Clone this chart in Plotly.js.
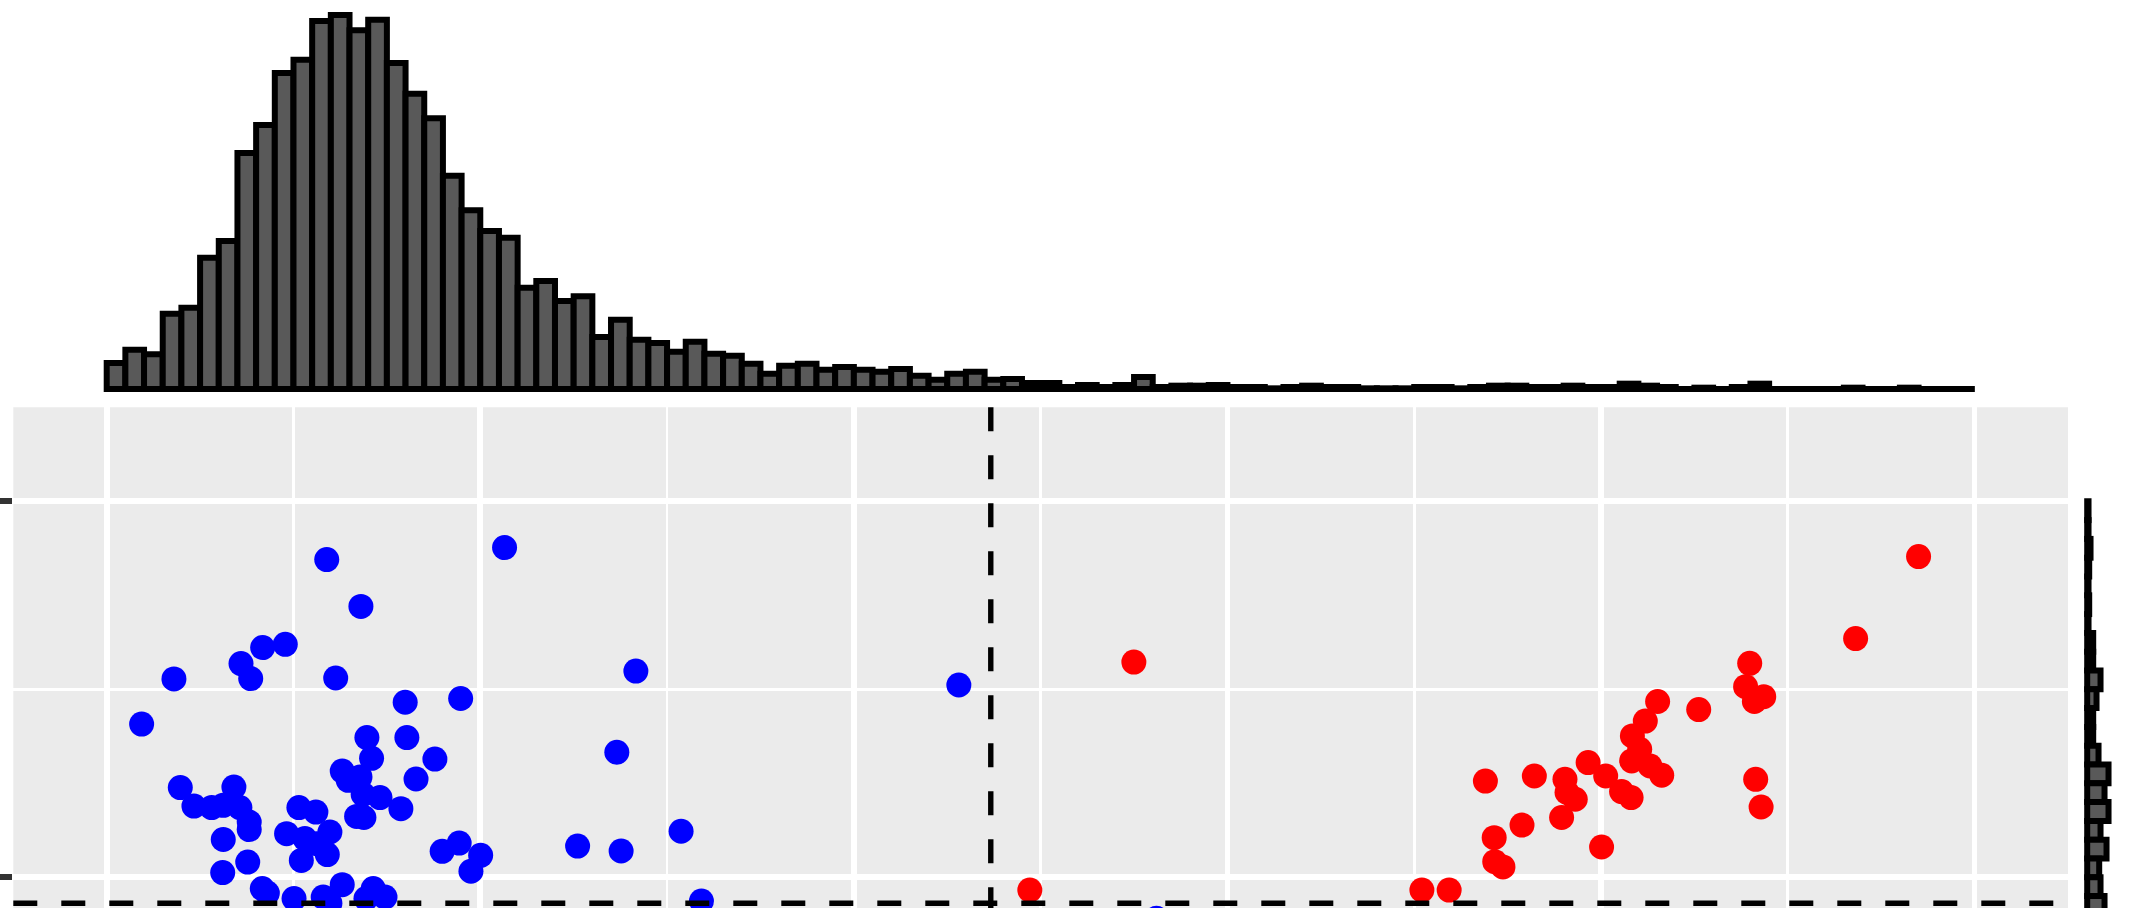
<!DOCTYPE html>
<html>
<head>
<meta charset="utf-8">
<script src="https://cdn.plot.ly/plotly-3.0.1.min.js"></script>
<style>
html,body{margin:0;padding:0;background:#ffffff;overflow:hidden}
#chart{width:2136px;height:908px}
</style>
</head>
<body>
<div id="chart"></div>
<script>
// ---- Data ----
// Top marginal histogram: 100 bins of width 0.01 from x = 0 to 1
const topBinStart = 0;
const topBinWidth = 0.01;
const topHistCounts = [
  39, 59, 52, 113, 122, 197, 222, 354, 396, 474, 494, 552, 561, 538, 554, 489, 443, 406, 320, 268, 237, 227, 152, 162, 132, 139,
  78, 104, 74, 69, 56, 71, 53, 50, 38, 23, 35, 38, 29, 33, 29, 26, 30, 20, 14, 23, 26, 14, 15,
  9, 9, 3, 6, 3, 6, 18, 3, 5, 5, 6, 3, 3, 1, 3, 5, 3, 3, 1, 1, 1, 3, 3, 1, 3, 5,
  5, 3, 3, 5, 3, 3, 8, 5, 3, 0, 2, 0, 3, 8, 0, 0, 0, 0, 2, 0, 0, 2, 0, 0, 0
];

// Right marginal histogram: bins of width 0.01 going down from y = 1.0 (visible part only)
const rightBinTop = 1.0;
const rightBinWidth = 0.01;
const rightHistCounts = [2, 2, 5, 3, 2, 3, 2, 9, 9, 20, 14, 9, 9, 17, 32, 26, 32, 20, 29, 18, 20, 26];

// Scatter points
const blueX = [0.1178, 0.2130, 0.1361, 0.0835, 0.0956, 0.0719, 0.0771, 0.0360, 0.1226, 0.0187,
  0.1598, 0.1895, 0.1393, 0.1607, 0.1418, 0.1757, 0.1656, 0.1261, 0.1293, 0.1356,
  0.0394, 0.0681, 0.0467, 0.0562, 0.0624, 0.0713, 0.0763, 0.0763, 0.1373, 0.1463,
  0.1575, 0.1029, 0.1120, 0.1338, 0.1377, 0.0624, 0.0963, 0.1061, 0.1195, 0.1124,
  0.1181, 0.1042, 0.0755, 0.0621, 0.1796, 0.1887, 0.2002, 0.1950, 0.2521, 0.2754,
  0.3075, 0.3184, 0.2833, 0.4562, 0.2731, 0.0833, 0.0860, 0.1003, 0.1159, 0.1261,
  0.1427, 0.1388, 0.1490, 0.1195, 0.5620];
const blueY = [0.9690, 0.9754, 0.9441, 0.9222, 0.9239, 0.9137, 0.9057, 0.9055, 0.9060, 0.8815,
  0.8931, 0.8951, 0.8743, 0.8743, 0.8633, 0.8629, 0.8523, 0.8565, 0.8516, 0.8534,
  0.8477, 0.8480, 0.8379, 0.8371, 0.8383, 0.8371, 0.8294, 0.8254, 0.8441, 0.8424,
  0.8365, 0.8371, 0.8347, 0.8324, 0.8318, 0.8201, 0.8232, 0.8206, 0.8241, 0.8179,
  0.8121, 0.8090, 0.8081, 0.8025, 0.8138, 0.8182, 0.8117, 0.8032, 0.8166, 0.8140,
  0.8245, 0.7874, 0.9097, 0.9023, 0.8665, 0.7940, 0.7916, 0.7887, 0.7895, 0.7961,
  0.7940, 0.7887, 0.7895, 0.7862, 0.7782];

const redX = [0.5499, 0.9700, 0.9363, 0.8796, 0.8774, 0.8821, 0.8871, 0.8303, 0.8523, 0.8237,
  0.8168, 0.8207, 0.8164, 0.8263, 0.8325, 0.7931, 0.8025, 0.7807, 0.7643, 0.7381,
  0.7818, 0.7862, 0.8110, 0.8161, 0.8828, 0.8857, 0.7577, 0.7789, 0.7428, 0.7431,
  0.7475, 0.8003, 0.7041, 0.7187, 0.4942];
const redY = [0.9145, 0.9706, 0.9270, 0.9138, 0.9014, 0.8935, 0.8961, 0.8935, 0.8892, 0.8831,
  0.8752, 0.8681, 0.8619, 0.8592, 0.8543, 0.8610, 0.8539, 0.8521, 0.8539, 0.8512,
  0.8451, 0.8415, 0.8456, 0.8424, 0.8521, 0.8374, 0.8278, 0.8318, 0.8211, 0.8083,
  0.8055, 0.8161, 0.7932, 0.7932, 0.7932];

// Threshold lines
const xThreshold = 0.4733;
const yThreshold = 0.7862;

// ---- Build chart ----
const topCenters = topHistCounts.map((_, i) => topBinStart + topBinWidth * (i + 0.5));
const topBinEnd = topBinStart + topBinWidth * topHistCounts.length;
const rightCenters = rightHistCounts.map((_, i) => rightBinTop - rightBinWidth * (i + 0.5));

const histMarker = {color: '#595959', line: {color: '#000000', width: 6}};

const traces = [
  {type: 'bar', x: topCenters, y: topHistCounts, width: topBinWidth,
   xaxis: 'x4', yaxis: 'y2', marker: histMarker, hoverinfo: 'skip'},
  {type: 'scatter', mode: 'lines', x: [topBinStart, topBinEnd], y: [0, 0],
   xaxis: 'x4', yaxis: 'y2', line: {color: '#000000', width: 6}, hoverinfo: 'skip'},
  {type: 'bar', orientation: 'h', y: rightCenters, x: rightHistCounts, width: rightBinWidth,
   xaxis: 'x3', yaxis: 'y3', marker: histMarker, hoverinfo: 'skip'},
  {type: 'scatter', mode: 'markers', x: blueX, y: blueY, xaxis: 'x', yaxis: 'y',
   marker: {color: '#0000FF', size: 25, line: {width: 0}}},
  {type: 'scatter', mode: 'markers', x: redX, y: redY, xaxis: 'x', yaxis: 'y',
   marker: {color: '#FF0000', size: 25, line: {width: 0}}}
];

const xDomain = [13.3 / 2136, 2068 / 2136];
const xRange = [-0.05, 1.05];
const yDomain = [0, (908 - 407.3) / 908];
const yRange = [1.05 - (908 - 407.3) / 1880, 1.05];

const layout = {
  width: 2136, height: 908,
  margin: {l: 0, r: 0, t: 0, b: 0, pad: 0},
  paper_bgcolor: '#ffffff',
  plot_bgcolor: 'rgba(0,0,0,0)',
  showlegend: false,
  xaxis: {
    domain: xDomain, range: xRange, anchor: 'y',
    showgrid: true, gridcolor: '#ffffff', gridwidth: 5.6,
    tick0: 0, dtick: 0.2,
    minor: {tick0: 0, dtick: 0.1, showgrid: true, gridcolor: '#ffffff', gridwidth: 2.8},
    ticks: '', showticklabels: false, zeroline: false, showline: false, fixedrange: true
  },
  yaxis: {
    domain: yDomain, range: yRange, anchor: 'x',
    showgrid: true, gridcolor: '#ffffff', gridwidth: 5.6,
    tick0: 0, dtick: 0.2,
    minor: {tick0: 0, dtick: 0.1, showgrid: true, gridcolor: '#ffffff', gridwidth: 2.8},
    ticks: 'outside', ticklen: 13.3, tickwidth: 5.6, tickcolor: '#333333',
    showticklabels: false, zeroline: false, showline: false, fixedrange: true
  },
  xaxis4: {domain: xDomain, range: xRange, anchor: 'y2', visible: false, fixedrange: true},
  yaxis2: {domain: [1 - 400 / 908, 1], range: [-16.5, 583.5], anchor: 'x4', visible: false, fixedrange: true},
  xaxis3: {domain: [2072 / 2136, 1], range: [-22.8, 73.2], anchor: 'y3', visible: false, fixedrange: true},
  yaxis3: {domain: yDomain, range: yRange, anchor: 'x3', visible: false, fixedrange: true},
  shapes: [
    {type: 'rect', xref: 'x domain', yref: 'y domain', x0: 0, x1: 1, y0: 0, y1: 1,
     fillcolor: '#EBEBEB', line: {width: 0}, layer: 'below'},
    {type: 'line', xref: 'x', yref: 'y domain', x0: xThreshold, x1: xThreshold, y0: 1, y1: 0,
     line: {color: '#000000', width: 5.4, dash: '24px,24px'}},
    {type: 'line', xref: 'x domain', yref: 'y', x0: 0, x1: 1, y0: yThreshold, y1: yThreshold,
     line: {color: '#000000', width: 5.4, dash: '24px,24px'}}
  ]
};

Plotly.newPlot('chart', traces, layout, {displayModeBar: false, staticPlot: true});
</script>
</body>
</html>
